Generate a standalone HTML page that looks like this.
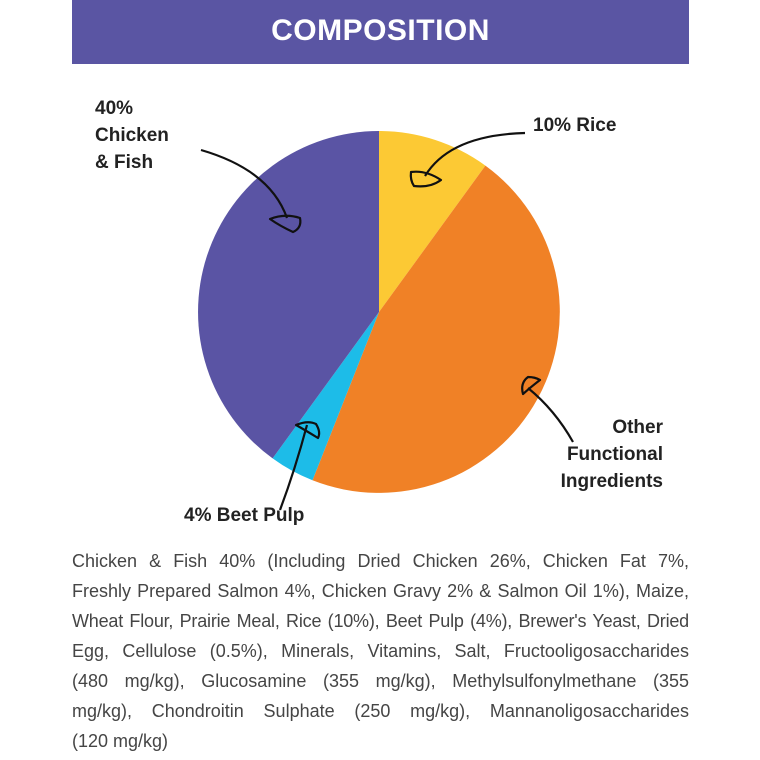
<!DOCTYPE html>
<html><head><style>
body{margin:0;width:760px;height:760px;background:#fff;position:relative;overflow:hidden;font-family:"Liberation Sans",sans-serif}
.hdr{position:absolute;left:72px;top:0;width:617px;height:64px;background:#5a55a3;color:#fff;font-weight:bold;font-size:30px;text-align:center;line-height:62px;letter-spacing:0.5px}
.lbl{position:absolute;font-weight:bold;font-size:19px;color:#222;line-height:27px}
.txt{position:absolute;left:72px;top:546px;width:617px;font-size:18px;color:#454545;line-height:30px}
.txt div{text-align:justify;text-align-last:justify;white-space:nowrap;}
.txt div.l{text-align-last:left}
</style></head><body>
<div class="hdr">COMPOSITION</div>
<svg width="760" height="760" style="position:absolute;left:0;top:0">
<path d="M379,312 L379,131 A181,181 0 0 1 485.4,165.6 Z" fill="#fcc934"/>
<path d="M379,312 L485.4,165.6 A181,181 0 0 1 312.5,480.3 Z" fill="#f08126"/>
<path d="M379,312 L312.5,480.3 A181,181 0 0 1 272.6,458.4 Z" fill="#1dbce8"/>
<path d="M379,312 L272.6,458.4 A181,181 0 0 1 379,131 Z" fill="#5a54a4"/>
<g fill="none" stroke="#111" stroke-width="2.2" stroke-linejoin="round">
<path d="M201,150 Q270,170 287,218"/>
<path d="M270,219 Q285,213 300,218 Q302,228 293,232 Q280,226 270,219 Z"/>
<path d="M525,133 Q450,135 425,176"/>
<path d="M411,172 Q426,170 441,180 Q430,188 414,186 Q410,180 411,172 Z"/>
<path d="M573,442 Q555,410 528,388"/>
<path d="M523,394 Q520,383 528,377 Q535,377 540,380 Q532,386 523,394 Z"/>
<path d="M280,510 Q295,470 307,425"/>
<path d="M296,425 Q308,420 316,424 Q321,432 318,438 Q305,430 296,425 Z"/>
</g>
</svg>
<div class="lbl" style="left:95px;top:95px">40%<br>Chicken<br>&amp; Fish</div>
<div class="lbl" style="left:533px;top:112px">10% Rice</div>
<div class="lbl" style="left:540px;top:414px;width:123px;text-align:right">Other<br>Functional<br>Ingredients</div>
<div class="lbl" style="left:184px;top:502px">4% Beet Pulp</div>
<div class="txt">
<div>Chicken &amp; Fish 40% (Including Dried Chicken 26%, Chicken Fat 7%,</div>
<div>Freshly Prepared Salmon 4%, Chicken Gravy 2% &amp; Salmon Oil 1%), Maize,</div>
<div style="letter-spacing:-0.2px">Wheat Flour, Prairie Meal, Rice (10%), Beet Pulp (4%), Brewer's Yeast, Dried</div>
<div>Egg, Cellulose (0.5%), Minerals, Vitamins, Salt, Fructooligosaccharides</div>
<div>(480 mg/kg), Glucosamine (355 mg/kg), Methylsulfonylmethane (355</div>
<div>mg/kg), Chondroitin Sulphate (250 mg/kg), Mannanoligosaccharides</div>
<div class="l">(120 mg/kg)</div>
</div>
</body></html>
